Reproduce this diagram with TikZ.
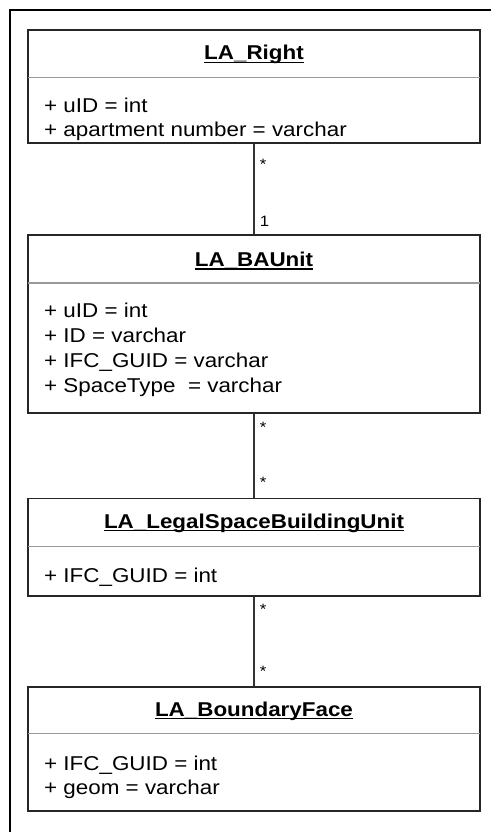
\documentclass[tikz,border=0pt]{standalone}
\usepackage{fontspec}
\setmainfont[FakeStretch=1.12]{Liberation Sans}
\usetikzlibrary{calc}

\newcommand{\classname}[1]{\setbox0\hbox{#1}\rlap{\rule[-3pt]{\wd0}{1.2pt}}\box0}

\begin{document}
\begin{tikzpicture}[
  x=1pt, y=-1pt,
  classbox/.style={rectangle, draw=black!85, line width=1.6pt, minimum width=452pt, inner sep=0pt},
  title/.style={font=\fontsize{20}{25}\selectfont\bfseries, inner sep=0pt, anchor=base},
  attr/.style={font=\fontsize{20}{25}\selectfont, inner sep=0pt, anchor=base west},
  sepline/.style={draw=black!40, line width=1.2pt},
  assoc/.style={draw=black!80, line width=1.6pt},
  mult/.style={font=\fontsize{15}{18}\selectfont, inner sep=0pt, anchor=base west, xshift=5pt}
]
\useasboundingbox (0,0) rectangle (490,832);
% frame
\draw[line width=2.5pt] (505,10) -- (10,10) -- (10,845);

% LA_Right
\node[classbox, minimum height=113pt] (right) at (254,86.7) {};
\node[title] (rightname) at (254,60) {\classname{LA\_Right}};
\draw[sepline] (28,77.5) -- (480,77.5);
\node[attr] (rightuid) at (44,113) {+ uID = int};
\node[attr] (rightapt) at (44,136) {+ apartment number = varchar};

% LA_BAUnit
\node[classbox, minimum height=178pt] (baunit) at (254,324.2) {};
\node[title] (baunitname) at (254,266.5) {\classname{LA\_BAUnit}};
\draw[sepline] (28,283) -- (480,283);
\node[attr] (baunituid) at (44,317) {+ uID = int};
\node[attr] (baunitid) at (44,342) {+ ID = varchar};
\node[attr] (baunitguid) at (44,367) {+ IFC\_GUID = varchar};
\node[attr] (baunittype) at (44,392.5) {+ SpaceType~ = varchar};

% LA_LegalSpaceBuildingUnit
\node[classbox, minimum height=97.4pt] (lsbu) at (254,547) {};
\node[title] (lsbuname) at (254,528) {\classname{LA\_LegalSpaceBuildingUnit}};
\draw[sepline] (28,546.5) -- (480,546.5);
\node[attr] (lsbuguid) at (44,582.5) {+ IFC\_GUID = int};

% LA_BoundaryFace
\node[classbox, minimum height=124pt] (bface) at (254,748.7) {};
\node[title] (bfacename) at (254,716) {\classname{LA\_BoundaryFace}};
\draw[sepline] (28,733.3) -- (480,733.3);
\node[attr] (bfaceguid) at (44,770) {+ IFC\_GUID = int};
\node[attr] (bfacegeom) at (44,794.5) {+ geom = varchar};

% associations
\draw[assoc] (right) -- (baunit)
  node[mult, pos=0, yshift=-25.7pt] {*}
  node[mult, pos=1, yshift=8.3pt] {1};
\draw[assoc] (baunit) -- (lsbu)
  node[mult, pos=0, yshift=-18.7pt] {*}
  node[mult, pos=1, yshift=9.7pt] {*};
\draw[assoc] (lsbu) -- (bface)
  node[mult, pos=0, yshift=-17.9pt] {*}
  node[mult, pos=1, yshift=9.7pt] {*};
\end{tikzpicture}
\end{document}
